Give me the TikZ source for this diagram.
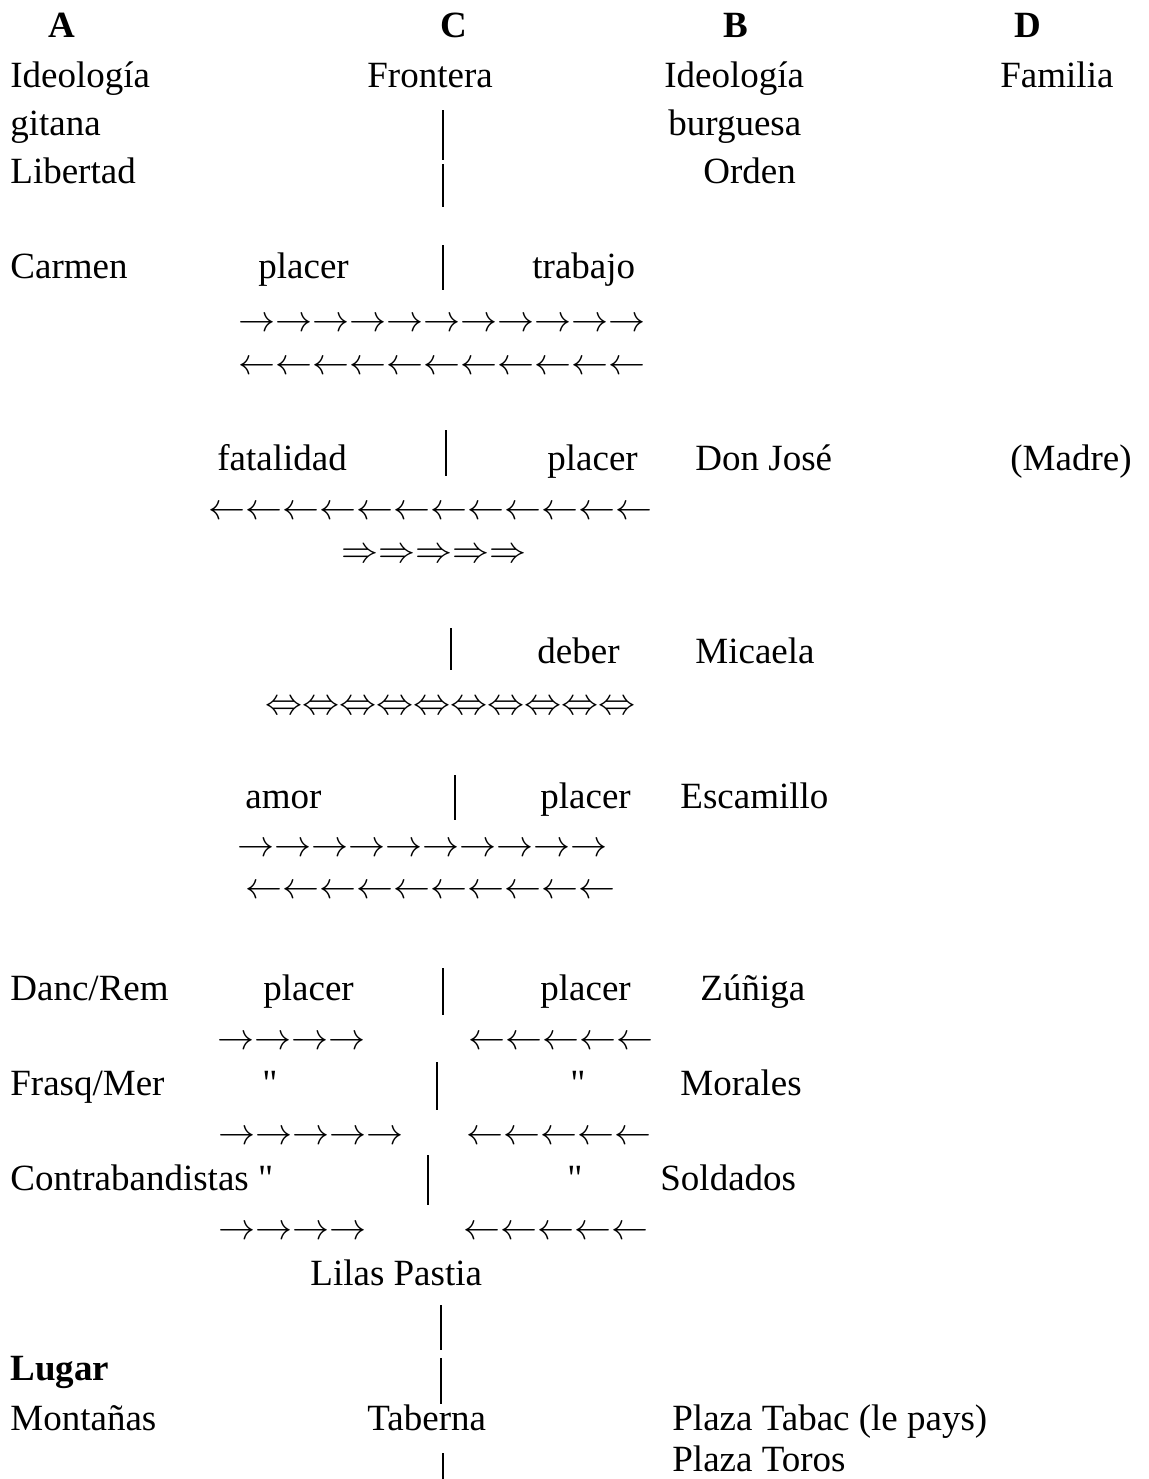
\RequirePackage{fix-cm}
\documentclass[tikz,border=0pt]{standalone}
\usepackage{fontspec}
\setmainfont{Liberation Serif}[Ligatures=TeXOff]
\usepackage{tikz}
\usetikzlibrary{positioning}
% fila de flechas: n veces el simbolo
\newcommand\arrowrun[2]{\foreach \k in {1,...,#1}{$#2$}}

\begin{document}
\begin{tikzpicture}[x=0.5pt, y=-0.5pt, font=\fontsize{18.5}{22}\selectfont,
	txt/.style={anchor=base west, inner sep=0pt},
	hdr/.style={txt, font=\fontsize{18.5}{22}\selectfont\bfseries},
	bar/.style={line width=0.7pt}]
	\useasboundingbox (0,0) rectangle (1148,1479);
	% columnas
	\node[hdr] (colA) at (48,37) {A};
	\node[hdr] (colC) at (440,37) {C};
	\node[hdr] (colB) at (723,37) {B};
	\node[hdr] (colD) at (1014,37) {D};
	\node[txt] (ideoA) at (10,87) {Ideología};
	\node[txt] (front) at (367,87) {Frontera};
	\node[txt] (ideoB) at (664,87) {Ideología};
	\node[txt] (famil) at (1000,87) {Familia};
	\node[txt] (gitana) at (10,135) {gitana};
	\node[txt] (burgue) at (668,135) {burguesa};
	\node[txt] (libert) at (10,183) {Libertad};
	\node[txt] (orden) at (703,183) {Orden};
	% Carmen
	\node[txt] (carmen) at (10,278) {Carmen};
	\node[txt] (plCar) at (258,278) {placer};
	\node[txt] (trabajo) at (532,278) {trabajo};
	\node[txt] (flCarR) at (238,331) {\arrowrun{11}{\rightarrow}};
	\node[txt] (flCarL) at (238,374) {\arrowrun{11}{\leftarrow}};
	% Don Jose
	\node[txt] (fatal) at (217,470) {fatalidad};
	\node[txt] (plJose) at (547,470) {placer};
	\node[txt] (jose) at (695,470) {Don José};
	\node[txt] (madre) at (1010,470) {(Madre)};
	\node[txt] (flJoseL) at (208,519) {\arrowrun{12}{\leftarrow}};
	\node[txt] (flJoseR) at (341,562) {\arrowrun{5}{\Rightarrow}};
	% Micaela
	\node[txt] (deber) at (537,663) {deber};
	\node[txt] (micaela) at (695,663) {Micaela};
	\node[txt] (flMic) at (265,714) {\arrowrun{10}{\Leftrightarrow}};
	% Escamillo
	\node[txt] (amor) at (245,808) {amor};
	\node[txt] (plEsc) at (540,808) {placer};
	\node[txt] (escam) at (680,808) {Escamillo};
	\node[txt] (flEscR) at (237,856) {\arrowrun{10}{\rightarrow}};
	\node[txt] (flEscL) at (245,898) {\arrowrun{10}{\leftarrow}};
	% grupos
	\node[txt] (danc) at (10,1000) {Danc/Rem};
	\node[txt] (plDanc) at (263,1000) {placer};
	\node[txt] (plZun) at (540,1000) {placer};
	\node[txt] (zuniga) at (700,1000) {Zúñiga};
	\node[txt] (flDancR) at (217,1049) {\arrowrun{4}{\rightarrow}};
	\node[txt] (flDancL) at (468,1049) {\arrowrun{5}{\leftarrow}};
	\node[txt] (frasq) at (10,1095) {Frasq/Mer};
	\node[txt] (idFrasq) at (262,1095) {"};
	\node[txt] (idMor) at (570,1095) {"};
	\node[txt] (morales) at (680,1095) {Morales};
	\node[txt] (flFrasqR) at (218,1144) {\arrowrun{5}{\rightarrow}};
	\node[txt] (flFrasqL) at (466,1144) {\arrowrun{5}{\leftarrow}};
	\node[txt] (contra) at (10,1190) {Contrabandistas "};
	\node[txt] (idSold) at (567,1190) {"};
	\node[txt] (soldad) at (660,1190) {Soldados};
	\node[txt] (flContR) at (218,1239) {\arrowrun{4}{\rightarrow}};
	\node[txt] (flContL) at (463,1239) {\arrowrun{5}{\leftarrow}};
	\node[txt] (lilas) at (310,1285) {Lilas Pastia};
	% lugar
	\node[hdr] (lugar) at (10,1380) {Lugar};
	\node[txt] (montan) at (10,1430) {Montañas};
	\node[txt] (tabern) at (367,1430) {Taberna};
	\node[txt] (tabac) at (672,1430) {Plaza Tabac (le pays)};
	\node[txt] (toros) at (672,1471) {Plaza Toros};
	% frontera
	\foreach \x/\ya/\yb in {443/110/160, 443/164/207, 443/245/290, 446/430/476,
		451/628/670, 455/775/820, 443/968/1015, 437/1062/1110, 428/1155/1205,
		441/1305/1350, 443/1453/1479}
		{\draw[bar] (\x,\ya) -- (\x,\yb);}
	\draw[bar, line width=1.1pt] (441,1358) -- (441,1404);
\end{tikzpicture}
\end{document}
